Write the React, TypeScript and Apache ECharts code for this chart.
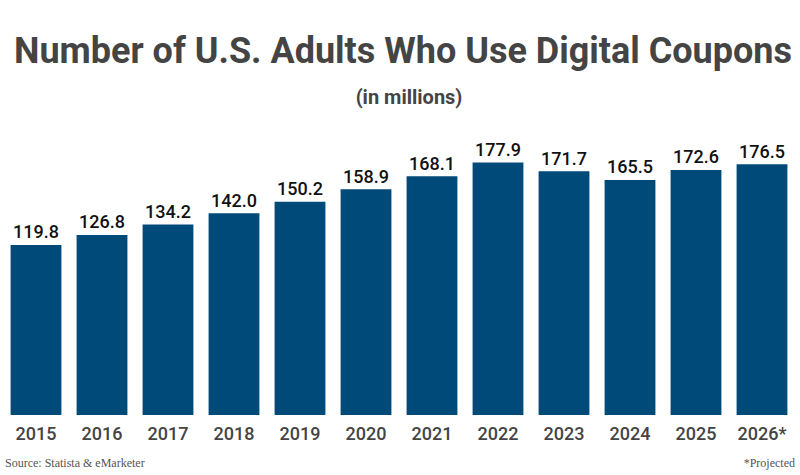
import React, { useEffect, useRef } from "react";
import * as echarts from "echarts";

const years = ["2015", "2016", "2017", "2018", "2019", "2020", "2021", "2022", "2023", "2024", "2025", "2026*"];
const adults = [119.8, 126.8, 134.2, 142.0, 150.2, 158.9, 168.1, 177.9, 171.7, 165.5, 172.6, 176.5];

const titleText = "Number of U.S. Adults Who Use Digital Coupons";
const subtitleText = "(in millions)";
const sourceText = "Source: Statista & eMarketer";
const noteText = "*Projected";

export default function App() {
  const ref = useRef<HTMLDivElement>(null);

  useEffect(() => {
    if (!ref.current) return;
    const chart = echarts.init(ref.current, null, { renderer: "svg" });
    chart.setOption({
      animation: false,
      backgroundColor: "#ffffff",
      grid: { left: 3, right: 5, top: 131, bottom: 60, containLabel: false },
      xAxis: {
        type: "category",
        data: years,
        axisLine: { show: false },
        axisTick: { show: false },
        axisLabel: {
          color: "#444444",
          fontFamily: "Roboto",
          fontWeight: 500,
          fontSize: 18,
          margin: 9,
        },
      },
      yAxis: {
        type: "value",
        min: 0,
        max: 200,
        show: false,
        splitLine: { show: false },
      },
      series: [
        {
          type: "bar",
          data: adults,
          barCategoryGap: "23%",
          itemStyle: { color: "#004a79" },
          label: {
            show: true,
            position: "top",
            distance: 4,
            color: "#111111",
            fontFamily: "Roboto",
            fontWeight: 500,
            fontSize: 18,
            formatter: (p: any) => Number(p.value).toFixed(1),
          },
        },
      ],
      graphic: [
        {
          type: "text",
          x: 403,
          y: 51,
          style: {
            text: titleText,
            fill: "#444444",
            font: "bold 36px Roboto",
            textAlign: "center",
            textVerticalAlign: "middle",
          },
        },
        {
          type: "text",
          x: 409,
          y: 97,
          style: {
            text: subtitleText,
            fill: "#444444",
            font: "bold 20px Roboto",
            textAlign: "center",
            textVerticalAlign: "middle",
          },
        },
        {
          type: "text",
          x: 5,
          y: 463,
          style: {
            text: sourceText,
            fill: "#555555",
            font: "12px 'Liberation Serif'",
            textAlign: "left",
            textVerticalAlign: "middle",
          },
        },
        {
          type: "text",
          x: 795,
          y: 463,
          style: {
            text: noteText,
            fill: "#555555",
            font: "12px 'Liberation Serif'",
            textAlign: "right",
            textVerticalAlign: "middle",
          },
        },
      ],
    });
    return () => chart.dispose();
  }, []);

  return <div ref={ref} style={{ width: 800, height: 475, position: "absolute", left: 0, top: 0 }} />;
}
